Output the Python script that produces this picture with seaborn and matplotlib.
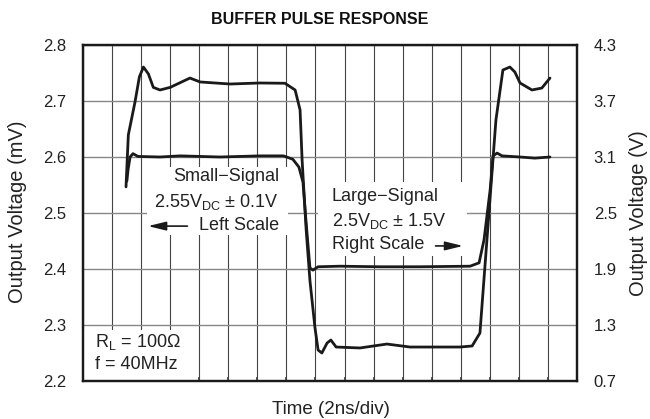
import matplotlib
matplotlib.use("Agg")
import matplotlib.pyplot as plt
import seaborn as sns
import pandas as pd
from matplotlib.patches import Rectangle

# waveform data (x in divisions)
small_t = [1.51, 1.55, 1.62, 1.72, 1.89, 2.65, 3.34, 4.71, 6.09, 6.90, 7.22, 7.43, 7.57, 7.67,
           7.81, 7.91, 8.09, 8.84, 10.22, 11.60, 13.32, 13.63, 13.80, 14.01, 14.11, 14.25,
           14.42, 15.04, 15.55, 16.07]
small_mv = [2.557, 2.577, 2.600, 2.606, 2.601, 2.600, 2.602, 2.600, 2.602, 2.602, 2.596, 2.582,
            2.555, 2.488, 2.402, 2.398, 2.404, 2.405, 2.404, 2.404, 2.405, 2.411, 2.452, 2.541,
            2.602, 2.607, 2.602, 2.600, 2.598, 2.600]

large_t = [1.48, 1.56, 1.79, 1.94, 2.08, 2.25, 2.42, 2.65, 3.00, 3.68, 4.03, 5.06, 6.09, 6.95,
           7.30, 7.47, 7.54, 7.68, 7.81, 7.98, 8.09, 8.22, 8.40, 8.53, 8.71, 9.53, 10.46,
           11.25, 12.97, 13.39, 13.66, 13.90, 14.21, 14.45, 14.69, 14.86, 15.04, 15.45,
           15.79, 16.07]
large_v = [2.780, 3.337, 3.690, 3.958, 4.064, 3.990, 3.846, 3.818, 3.846, 3.946, 3.904, 3.882,
           3.893, 3.890, 3.818, 3.604, 3.068, 2.318, 1.775, 1.278, 1.032, 1.000, 1.107,
           1.139, 1.064, 1.054, 1.096, 1.064, 1.064, 1.075, 1.214, 2.211, 3.496, 4.032,
           4.064, 4.011, 3.893, 3.818, 3.839, 3.946]

left_ticks = [2.2, 2.3, 2.4, 2.5, 2.6, 2.7, 2.8]
right_ticks = [0.7, 1.3, 1.9, 2.5, 3.1, 3.7, 4.3]
time_divs = list(range(0, 18))

sns.set_theme(style="white")
plt.rcParams["font.family"] = ["Liberation Sans", "DejaVu Sans"]
plt.rcParams["mathtext.fontset"] = "custom"
plt.rcParams["mathtext.rm"] = "Liberation Sans"
plt.rcParams["mathtext.it"] = "Liberation Sans:italic"

INK = "#222222"

fig = plt.figure(figsize=(6.5, 4.19), dpi=100)
ax = fig.add_axes([83 / 650, 38 / 419, 494 / 650, 336 / 419])

small_df = pd.DataFrame({"t": small_t, "v": small_mv})
large_df = pd.DataFrame({"t": large_t, "v": large_v})

ax.set_axisbelow(True)
ax.set_xlim(0, 17)
ax.set_ylim(2.2, 2.8)
ax.set_xticks(time_divs)
ax.set_xticklabels([])
ax.set_yticks(left_ticks)
ax.set_yticklabels([f"{v:.1f}" for v in left_ticks])
ax.xaxis.grid(True, color="#444444", linewidth=0.8)
ax.yaxis.grid(True, color="#888888", linewidth=1.0)
ax.tick_params(axis="x", direction="in", length=3, color="#444444", bottom=True)
ax.tick_params(axis="y", length=0, pad=12, labelsize=12, colors=INK)

# white label boxes that break the grid
for (x0, y0, w, h) in [(0.1296, 0.4345, 0.2854, 0.2025),
                       (0.4757, 0.372, 0.3016, 0.220),
                       (0.002, 0.003, 0.2146, 0.149)]:
    ax.add_patch(Rectangle((x0, y0), w, h, transform=ax.transAxes,
                           facecolor="white", edgecolor="none", zorder=1))

sns.lineplot(data=small_df, x="t", y="v", ax=ax, color="#1a1a1a", linewidth=2.0,
             sort=False, estimator=None, zorder=3)
ax.set_xlabel("")
ax.set_ylabel("")

ax2 = ax.twinx()
ax2.set_ylim(0.7, 4.3)
ax2.set_yticks(right_ticks)
ax2.set_yticklabels([f"{v:.1f}" for v in right_ticks])
ax2.tick_params(axis="y", length=0, pad=12, labelsize=12, colors=INK)
sns.lineplot(data=large_df, x="t", y="v", ax=ax2, color="#1a1a1a", linewidth=2.0,
             sort=False, estimator=None, zorder=3)
ax2.set_ylabel("")
ax2.grid(False)

for a in (ax, ax2):
    for s in a.spines.values():
        s.set_visible(True)
        s.set_color("#1a1a1a")
        s.set_linewidth(1.6)

# axis labels
fig.text(18 / 650, 1 - 212 / 419, "Output Voltage (mV)", rotation=90, ha="center",
         va="center", fontsize=14.5, color=INK)
fig.text(639 / 650, 1 - 213 / 419, "Output Voltage (V)", rotation=90, ha="center",
         va="center", fontsize=14.5, color=INK)
fig.text(331 / 650, 1 - 409 / 419, "Time (2ns/div)", ha="center", va="center",
         fontsize=13.5, color=INK)

tx = dict(transform=ax.transAxes, fontsize=13, color=INK, zorder=4, va="center")
# small signal block (right aligned)
ax.text(0.397, 0.608, "Small\u2212Signal", ha="right", **tx)
ax.text(0.397, 0.533, "2.55V$_{\\mathrm{DC}}$ $\\pm$ 0.1V", ha="right", **tx)
ax.text(0.397, 0.464, "Left Scale", ha="right", **tx)
ax.annotate("", xy=(0.126, 0.461), xytext=(0.217, 0.461), xycoords="axes fraction",
            arrowprops=dict(arrowstyle="-|>,head_length=0.9,head_width=0.22",
                            color="#1a1a1a", lw=1.2), zorder=4)
# large signal block (left aligned)
ax.text(0.504, 0.549, "Large\u2212Signal", ha="left", **tx)
ax.text(0.504, 0.477, "2.5V$_{\\mathrm{DC}}$ $\\pm$ 1.5V", ha="left", **tx)
ax.text(0.504, 0.405, "Right Scale", ha="left", **tx)
ax.annotate("", xy=(0.775, 0.402), xytext=(0.708, 0.402), xycoords="axes fraction",
            arrowprops=dict(arrowstyle="-|>,head_length=0.9,head_width=0.22",
                            color="#1a1a1a", lw=1.2), zorder=4)
# load conditions
ax.text(0.024, 0.117, "R$_{\\mathrm{L}}$ = 100\u03a9", ha="left", **tx)
ax.text(0.024, 0.048, "f = 40MHz", ha="left", **tx)

fig.text(320 / 650, 1 - 19 / 419, "BUFFER PULSE RESPONSE", ha="center", va="center",
         fontsize=11.5, fontweight="bold", color="#111111")

fig.savefig("out.png", dpi=100)
